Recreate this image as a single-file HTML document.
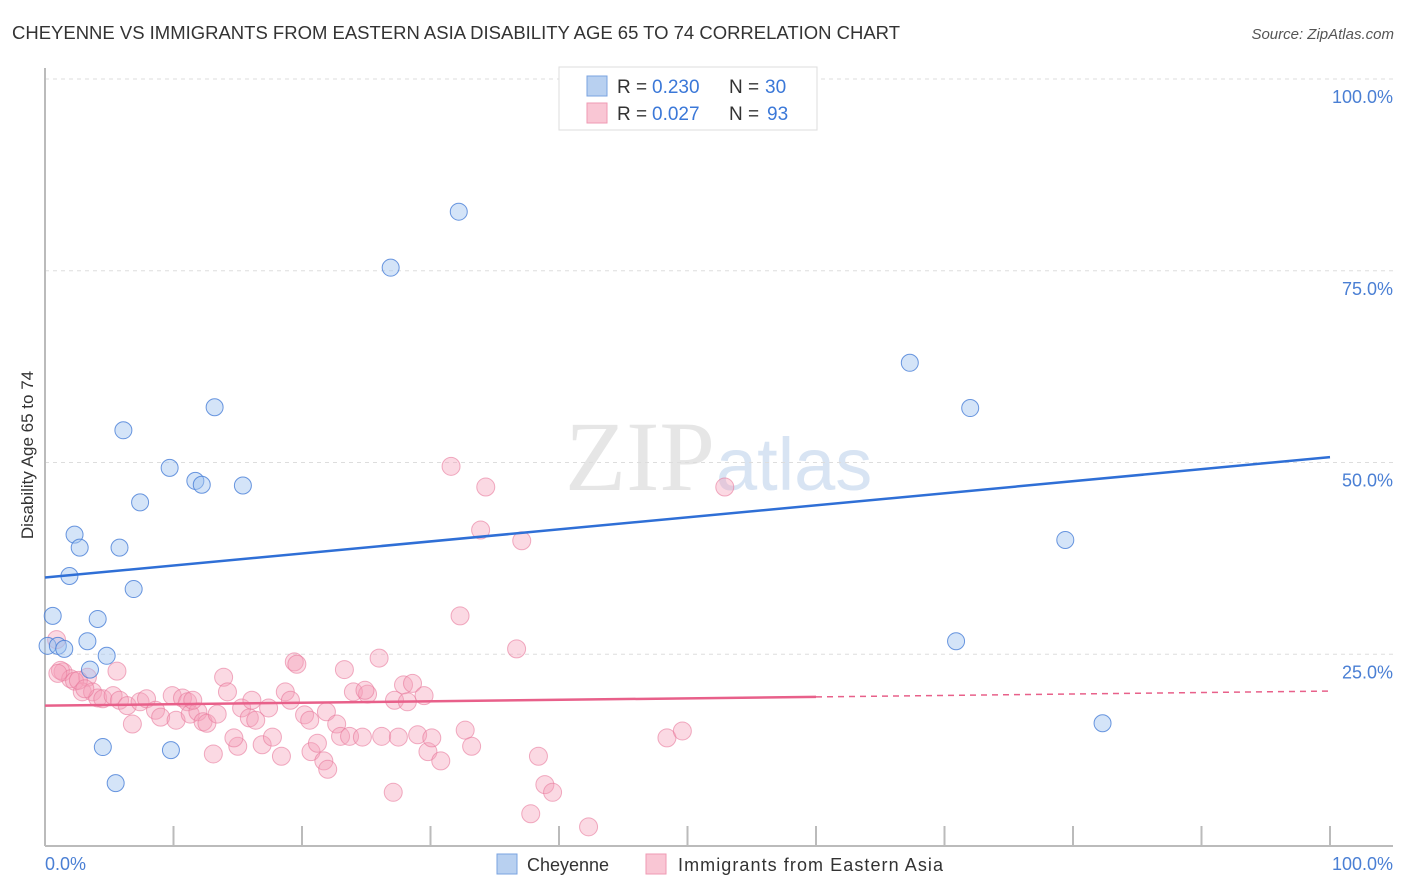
<!DOCTYPE html>
<html><head><meta charset="utf-8"><style>
body{margin:0;background:#fff;font-family:"Liberation Sans",sans-serif;}
svg{display:block}
</style></head><body>
<svg id="c" width="1406" height="892">
<text x="12" y="39" font-size="18" fill="#333" textLength="888" lengthAdjust="spacingAndGlyphs">CHEYENNE VS IMMIGRANTS FROM EASTERN ASIA DISABILITY AGE 65 TO 74 CORRELATION CHART</text>
<text x="1394" y="39" font-size="15" fill="#555" font-style="italic" text-anchor="end">Source: ZipAtlas.com</text>
<text x="715" y="490" font-size="100" fill="#e6e6e6" font-family="Liberation Serif,serif" text-anchor="end">ZIP</text>
<text x="716" y="490" font-size="74" fill="#d8e4f3">atlas</text>
<g id="grid"></g>
<line x1="45" y1="68" x2="45" y2="846" stroke="#bbb" stroke-width="2"/>
<line x1="45" y1="846" x2="1393" y2="846" stroke="#bbb" stroke-width="2"/>
<g id="ticks"></g>
<text x="33" y="455" font-size="17" fill="#333" transform="rotate(-90 33 455)" text-anchor="middle">Disability Age 65 to 74</text>
<text x="45" y="870" font-size="18" fill="#4a7fd4">0.0%</text>
<text x="1393" y="870" font-size="18" fill="#4a7fd4" text-anchor="end">100.0%</text>
<g id="pts"></g>
<g id="trends"></g>
<g>
<rect x="559" y="67" width="258" height="63" fill="#fff" stroke="#ddd"/>
<rect x="587" y="76" width="20" height="20" fill="#b8d0f0" stroke="#7aa3e0"/>
<rect x="587" y="103" width="20" height="20" fill="#f9c6d4" stroke="#ef9ab3"/>
<g font-size="19" fill="#333">
<text x="617" y="93">R =</text><text x="652" y="93" fill="#3b78d8">0.230</text><text x="729" y="93">N =</text><text x="765" y="93" fill="#3b78d8">30</text></g>
<g font-size="19" fill="#333">
<text x="617" y="120">R =</text><text x="652" y="120" fill="#3b78d8">0.027</text><text x="729" y="120">N =</text><text x="767" y="120" fill="#3b78d8">93</text></g>
</g>
<rect x="497" y="854" width="20" height="20" fill="#b8d0f0" stroke="#7aa3e0"/>
<text x="527" y="871" font-size="18" fill="#333">Cheyenne</text>
<rect x="646" y="854" width="20" height="20" fill="#f9c6d4" stroke="#ef9ab3"/>
<text x="678" y="871" font-size="18" fill="#333" textLength="265">Immigrants from Eastern Asia</text>
</svg>
<script>
const yTicks=[25,50,75,100];
const yTickLabels=["25.0%","50.0%","75.0%","100.0%"];
const xTicks=[10,20,30,40,50,60,70,80,90,100];
const cheyenneX=[32.2,26.9,67.3,72.0,13.2,6.1,9.7,11.7,12.2,15.4,7.4,2.3,2.7,5.8,1.9,6.9,0.6,4.1,3.3,0.2,1.0,1.5,4.8,3.5,4.5,9.8,5.5,79.4,70.9,82.3];
const cheyenneY=[82.7,75.4,63.0,57.1,57.2,54.2,49.3,47.6,47.1,47.0,44.8,40.6,38.9,38.9,35.2,33.5,30.0,29.6,26.7,26.1,26.1,25.7,24.8,23.0,12.9,12.5,8.2,39.9,26.7,16.0];
const immX=[31.6,34.3,52.9,33.9,37.1,32.3,36.7,19.4,19.6,26.0,23.3,13.9,5.6,1.4,0.9,3.3,1.2,2.0,2.3,2.9,3.7,4.1,4.5,5.3,5.8,6.4,7.4,7.9,8.6,9.0,9.9,10.7,11.1,10.2,11.3,11.9,12.3,12.6,13.4,14.2,15.3,15.9,16.4,16.1,17.4,18.7,19.1,20.2,20.6,21.9,22.7,23.0,24.0,25.1,24.9,27.9,28.6,27.2,28.2,29.5,6.8,13.1,15.0,14.7,16.9,17.7,18.4,20.7,21.2,21.7,22.0,23.7,24.7,26.2,27.5,29.0,29.8,30.1,30.8,32.7,33.2,38.4,38.9,39.5,37.8,42.3,27.1,48.4,49.6,1.0,2.6,3.1,11.5];
const immY=[49.5,46.8,46.8,41.2,39.8,30.0,25.7,24.0,23.7,24.5,23.0,22.0,22.8,22.7,26.9,22.0,22.9,21.8,21.5,20.1,20.1,19.3,19.2,19.6,19.0,18.3,18.8,19.2,17.7,16.8,19.6,19.3,18.8,16.4,17.2,17.5,16.2,16.0,17.2,20.1,18.0,16.7,16.4,19.0,18.0,20.1,19.0,17.1,16.4,17.5,15.9,14.3,20.1,19.8,20.3,21.0,21.2,19.0,18.8,19.6,15.9,12.0,13.0,14.1,13.2,14.2,11.7,12.3,13.4,11.1,10.0,14.3,14.2,14.3,14.2,14.5,12.3,14.1,11.1,15.1,13.0,11.7,8.0,7.0,4.2,2.5,7.0,14.1,15.0,22.5,21.6,20.5,19.0];
const trendX=[0,100];
const cheyTrendY=[35.0,50.7];
const immTrendY=[18.3,20.2];
const immSolidEnd=60;
const NS='http://www.w3.org/2000/svg';
function sx(v){return 45+v*12.85;}
function sy(v){return 846-v*7.67;}
function mk(t,a,p){const e=document.createElementNS(NS,t);for(const k in a)e.setAttribute(k,a[k]);p.appendChild(e);return e;}
const grid=document.getElementById('grid');
yTicks.forEach((v,i)=>{
 const l=mk('line',{x1:45,x2:1393,y1:sy(v),y2:sy(v),stroke:'#ddd','stroke-dasharray':'4 4'},grid);
 
 
 const t=mk('text',{x:1393,y:sy(v)+24,'font-size':18,fill:'#4a7fd4','text-anchor':'end'},grid);
 t.textContent=yTickLabels[i];
 
 
});
const tk=document.getElementById('ticks');
xTicks.forEach(v=>{
 const l=mk('line',{x1:sx(v),x2:sx(v),y1:826,y2:846,stroke:'#bbb','stroke-width':2},tk);
 
 
});
const pts=document.getElementById('pts');
immX.forEach((x,i)=>{
 const c=mk('circle',{cx:sx(x),cy:sy(immY[i]),r:9,fill:'rgba(244,160,185,0.4)',stroke:'rgba(232,120,155,0.6)','stroke-width':1},pts);
 
 
});
cheyenneX.forEach((x,i)=>{
 const c=mk('circle',{cx:sx(x),cy:sy(cheyenneY[i]),r:8.5,fill:'rgba(160,195,240,0.45)',stroke:'rgba(70,125,215,0.8)','stroke-width':1},pts);
 
 
});
const tr=document.getElementById('trends');
const bl=mk('line',{x1:sx(trendX[0]),y1:sy(cheyTrendY[0]),x2:sx(trendX[1]),y2:sy(cheyTrendY[1]),stroke:'#2f6fd6','stroke-width':2.5},tr);


const midY=immTrendY[0]+(immTrendY[1]-immTrendY[0])*immSolidEnd/100;
const pl=mk('line',{x1:sx(trendX[0]),y1:sy(immTrendY[0]),x2:sx(immSolidEnd),y2:sy(midY),stroke:'#e8608a','stroke-width':2.5},tr);


const pd=mk('line',{x1:sx(immSolidEnd),y1:sy(midY),x2:sx(trendX[1]),y2:sy(immTrendY[1]),stroke:'#e8608a','stroke-width':1.5,'stroke-dasharray':'6 5'},tr);


</script>
</body></html>
